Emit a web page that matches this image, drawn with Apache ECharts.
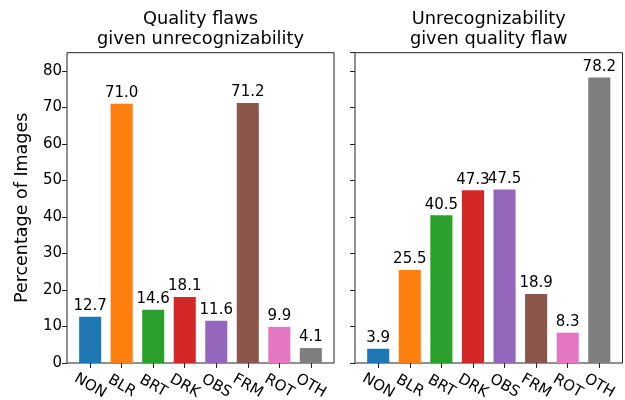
<!DOCTYPE html>
<html>
<head>
<meta charset="utf-8">
<script src="https://cdn.jsdelivr.net/npm/echarts@6/dist/echarts.min.js"></script>
<style>html,body{margin:0;padding:0;background:#fff}#c{width:625px;height:400px}</style>
</head>
<body>
<div id="c"></div>
<script>
const categories = ['NON','BLR','BRT','DRK','OBS','FRM','ROT','OTH'];
const flawsGivenUnrec = [12.7, 71.0, 14.6, 18.1, 11.6, 71.2, 9.9, 4.1];
const unrecGivenFlaw = [3.9, 25.5, 40.5, 47.3, 47.5, 18.9, 8.3, 78.2];
const colors = ['#1f77b4','#ff7f0e','#2ca02c','#d62728','#9467bd','#8c564b','#e377c2','#7f7f7f'];
const titles = ['Quality flaws\ngiven unrecognizability', 'Unrecognizability\ngiven quality flaw'];
const yName = 'Percentage of Images';

const FONT = 'DejaVu Sans';
const TOP = 52.7, H = 310.3, YMAX = 85;
// frames (axes boxes)
const frames = [{left: 67, width: 267}, {left: 355, width: 267.5}];
// bar areas: category bands inside the frame, leaving matplotlib-like margins
const barAreas = frames.map(f => {
  const u = f.width / 8.47;
  return {left: f.left + 0.735 * u - u / 2, width: 8 * u};
});
const LINE = {color: '#222', width: 1};
const G = {containLabel: false, outerBoundsMode: 'none'};

const grid = [
  Object.assign({left: frames[0].left, width: frames[0].width, top: TOP, height: H, show: true, borderColor: '#222', borderWidth: 1, backgroundColor: 'transparent'}, G),
  Object.assign({left: barAreas[0].left, width: barAreas[0].width, top: TOP, height: H}, G),
  Object.assign({left: frames[1].left, width: frames[1].width, top: TOP, height: H, show: true, borderColor: '#222', borderWidth: 1, backgroundColor: 'transparent'}, G),
  Object.assign({left: barAreas[1].left, width: barAreas[1].width, top: TOP, height: H}, G)
];

function frameX(gi) {
  return {type: 'value', gridIndex: gi, show: false, min: 0, max: 1};
}
function frameY(gi, showLabels) {
  const o = {
    type: 'value', gridIndex: gi, min: 0, max: YMAX, interval: 10, position: 'left',
    splitLine: {show: false},
    axisLine: {show: false},
    axisTick: {show: true, length: 5, inside: false, lineStyle: LINE},
    axisLabel: {show: showLabels, fontFamily: FONT, fontSize: 15, color: '#000', margin: 5, showMaxLabel: false}
  };
  if (showLabels) {
    o.name = yName; o.nameLocation = 'middle'; o.nameGap = 36;
    o.nameTextStyle = {fontFamily: FONT, fontSize: 17.5, color: '#000'};
  }
  return o;
}
function barX(gi) {
  return {
    type: 'category', gridIndex: gi, data: categories, boundaryGap: true, z: 5,
    axisLine: {show: false},
    axisTick: {show: true, alignWithLabel: true, length: 5, inside: false, lineStyle: LINE},
    axisLabel: {interval: 0, rotate: -30, align: 'center', verticalAlign: 'middle', margin: 23,
      fontFamily: FONT, fontSize: 15, color: '#000'}
  };
}
function barY(gi) {
  return {type: 'value', gridIndex: gi, min: 0, max: YMAX, show: false, splitLine: {show: false}};
}
function series(gi, vals) {
  return {
    type: 'bar', xAxisIndex: gi, yAxisIndex: gi, barWidth: '70%',
    data: vals.map((v, i) => ({value: v, itemStyle: {color: colors[i]}})),
    label: {show: true, position: 'top', distance: 3, fontFamily: FONT, fontSize: 15, color: '#000',
      formatter: p => Number(p.value).toFixed(1)},
    animation: false
  };
}

const chart = echarts.init(document.getElementById('c'), null, {renderer: 'canvas'});
chart.setOption({
  animation: false,
  backgroundColor: '#fff',
  title: titles.map((t, i) => ({
    text: t, left: frames[i].left + frames[i].width / 2, top: 9, textAlign: 'center', padding: 0,
    textStyle: {fontFamily: FONT, fontSize: 17.8, fontWeight: 'normal', color: '#000', lineHeight: 20}
  })),
  grid: grid,
  xAxis: [frameX(0), barX(1), frameX(2), barX(3)],
  yAxis: [frameY(0, true), barY(1), frameY(2, false), barY(3)],
  series: [series(1, flawsGivenUnrec), series(3, unrecGivenFlaw)]
});
</script>
</body>
</html>
